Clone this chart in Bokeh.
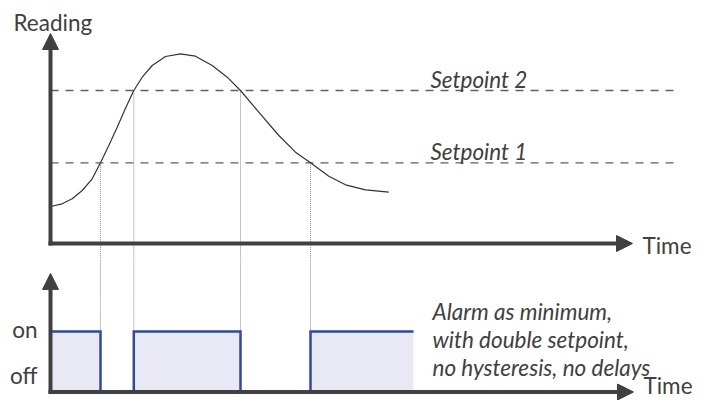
from bokeh.plotting import figure
from bokeh.models import Range1d, Arrow, NormalHead, ColumnDataSource
from bokeh.layouts import column
from bokeh.embed import file_html
from bokeh.resources import INLINE
from bokeh.core.properties import value

# ---------------- data ----------------
t_curve = [0.0, 1.17, 2.17, 3.17, 4.17, 5.0, 5.83, 6.67, 7.5, 8.33, 9.17, 10.17,
           11.5, 13.0, 14.5, 16.17, 17.67, 19.0, 20.83, 22.83, 24.5, 26.0,
           27.83, 29.5, 31.5, 33.83]
reading = [3.70, 3.97, 4.47, 5.30, 6.47, 8.07, 9.80, 11.63, 13.53, 15.30, 16.63, 17.80,
           18.70, 18.97, 18.73, 17.80, 16.63, 15.30, 13.13, 10.80, 9.13, 8.07,
           6.73, 5.87, 5.37, 5.13]
setpoint_names = ["Setpoint 1", "Setpoint 2"]
setpoint_values = [8.07, 15.3]
crossing_times = [5.0, 8.33, 19.0, 26.0]
crossing_levels = [8.07, 15.3, 15.3, 8.07]
alarm_start = [0.0, 8.33, 26.0]
alarm_end = [5.0, 19.0, 36.3]
alarm_closed = [True, True, False]
state_labels = ["on", "off"]
note_lines = ["Alarm as minimum,", "with double setpoint,", "no hysteresis, no delays"]

# ---------------- styling / layout ----------------
FONT = "Lato"
FS = "22.5px"
TXT = "#404040"
AX = "#404040"
W = 705
H_TOP, H_BOT = 258, 142

xr = Range1d(-5.0, -5.0 + W / 10.0)
yr_top = Range1d(-1.5, 24.3)
PPU_BOT = 60.5
yr_bot = Range1d(-(H_BOT - 133.5) / PPU_BOT, 133.5 / PPU_BOT)


def make_fig(h, yr):
    p = figure(width=W, height=h, x_range=xr, y_range=yr, output_backend="svg",
               toolbar_location=None, min_border=0, x_axis_location=None,
               y_axis_location=None, background_fill_color="white",
               border_fill_color="white")
    for g in p.grid:
        g.visible = False
    p.outline_line_color = None
    return p


def add_axis_arrow(p, x0, y0, x1, y1):
    p.add_layout(Arrow(end=NormalHead(size=16, fill_color=AX, line_color=AX, line_width=1),
                       x_start=x0, y_start=y0, x_end=x1, y_end=y1,
                       line_color=AX, line_width=4))


def add_text(p, xs, ys, texts, italic=False, align="left"):
    p.text(x=xs, y=ys, text=texts, text_font=value(FONT),
           text_font_style="italic" if italic else "normal", text_font_size=FS,
           text_color=TXT, text_baseline="middle", text_align=align)


# ---------------- top panel ----------------
top = make_fig(H_TOP, yr_top)

sp_src = ColumnDataSource(dict(v=setpoint_values, x0=[0.0] * 2, x1=[62.8] * 2))
top.segment(x0="x0", y0="v", x1="x1", y1="v", source=sp_src,
            line_color="#606060", line_width=1.3, line_dash="8 7")
add_text(top, [38.0] * 2, [9.2, 16.4], setpoint_names, italic=True)

top.segment(x0=crossing_times, y0=crossing_levels, x1=crossing_times,
            y1=[yr_top.start] * len(crossing_times),
            line_color="#8a8a8a", line_width=1, line_dash="1 1")

top.line(t_curve, reading, line_color="#333333", line_width=1.2)

add_axis_arrow(top, 0, -0.2, 0, 21.0)
add_axis_arrow(top, -0.2, 0, 58.2, 0)

add_text(top, [-3.7], [22.15], ["Reading"])
add_text(top, [59.2], [-0.15], ["Time"])

# ---------------- bottom panel ----------------
bot = make_fig(H_BOT, yr_bot)

bot.quad(left=alarm_start, right=alarm_end, bottom=[0] * 3, top=[1] * 3,
         fill_color="#e9e9f5", line_color=None)

bot.segment(x0=crossing_times, y0=[yr_bot.end] * 4, x1=crossing_times, y1=[1] * 4,
            line_color="#8a8a8a", line_width=1, line_dash="1 1")

xs, ys = [], []
for s, e, closed in zip(alarm_start, alarm_end, alarm_closed):
    px, py = [s, s, e], [0, 1, 1]
    if closed:
        px.append(e)
        py.append(0)
    xs.append(px)
    ys.append(py)
bot.multi_line(xs, ys, line_color="#2e4a9b", line_width=2.5, line_join="miter")

add_axis_arrow(bot, 0, -0.03, 0, 1.96)
add_axis_arrow(bot, -0.2, 0, 58.3, 0)

add_text(bot, [-1.3] * 2, [1.04, 0.269], state_labels, align="right")
add_text(bot, [38.2] * 3, [1.33, 0.87, 0.41], note_lines, italic=True)
add_text(bot, [59.3], [0.1], ["Time"])

layout = column(top, bot, spacing=0)
open("out.html", "w").write(file_html(layout, INLINE))
